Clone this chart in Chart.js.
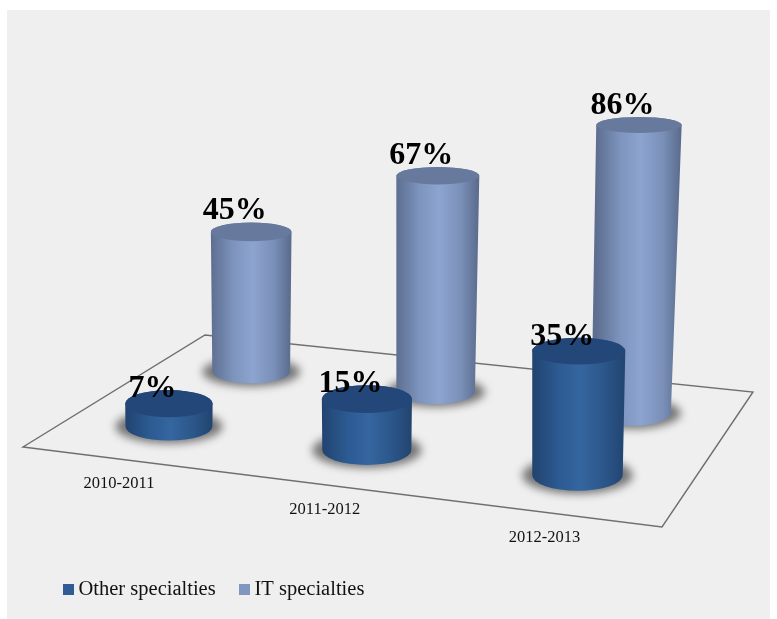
<!DOCTYPE html>
<html lang="en">
<head>
  <meta charset="UTF-8">
  <title>Specialties chart</title>
  <script src="https://cdn.jsdelivr.net/npm/chart.js"></script>
  <style>
    html, body { margin: 0; padding: 0; background: #fff; }
    canvas { display: block; }
  </style>
</head>
<body>
  <canvas id="chart" width="777" height="619"></canvas>

  <script>
    // data (percent)
    const categories = ['2010-2011', '2011-2012', '2012-2013'];
    const otherValues = [7, 15, 35];
    const itValues = [45, 67, 86];

    const SERIF = '"Liberation Serif", serif';

    // corners of the floor: front-left, front-right, back-right, back-left
    const floor = [[23, 447], [662, 527], [753, 392], [205, 335]];
    const depthOf = { other: 0.25, it: 0.725 };

    const looks = {
      other: { side: ['#21436f', '#2c5a92', '#35669f', '#2b5689', '#224470'], top: '#24477a', labelDy: 7, heightK: 0.985, dx: 0 },
      it: { side: ['#5d6e90', '#7d94bd', '#8da4d0', '#7a90b8', '#596a8b'], top: '#67799d', labelDy: -3, heightK: 1.04, dx: 2 }
    };

    // unit square -> floor polygon
    function makeProjection(q) {
      const dx1 = q[1][0] - q[2][0], dy1 = q[1][1] - q[2][1];
      const dx2 = q[3][0] - q[2][0], dy2 = q[3][1] - q[2][1];
      const dx3 = q[0][0] - q[1][0] + q[2][0] - q[3][0];
      const dy3 = q[0][1] - q[1][1] + q[2][1] - q[3][1];
      const den = dx1 * dy2 - dx2 * dy1;
      const g = (dx3 * dy2 - dx2 * dy3) / den;
      const h = (dx1 * dy3 - dx3 * dy1) / den;
      const a = q[1][0] - q[0][0] + g * q[1][0], b = q[3][0] - q[0][0] + h * q[3][0];
      const d = q[1][1] - q[0][1] + g * q[1][1], e = q[3][1] - q[0][1] + h * q[3][1];
      return (u, v) => {
        const w = 1 + g * u + h * v;
        return {
          x: (a * u + b * v + q[0][0]) / w,
          y: (d * u + e * v + q[0][1]) / w,
          scale: 1 / w
        };
      };
    }
    const project = makeProjection(floor);
    const tilt = y => 0.13 + 0.00045 * y;

    function measure(chart, datasetIndex, i) {
      const ds = chart.data.datasets[datasetIndex];
      const look = looks[ds.key];
      const xs = chart.scales.x, ys = chart.scales.y;
      const u = (xs.getPixelForTick(i) - xs.left) / xs.width;
      const p = project(u, depthOf[ds.key]);
      p.x += look.dx;
      const value = ds.data[i];
      const h = (ys.getPixelForValue(0) - ys.getPixelForValue(value)) * Math.pow(p.scale, 1.3) * look.heightK;
      const topW = 90 * p.scale;
      const botW = topW * (1 - value * 0.0008);
      const lean = h * h * (p.x - 250) * 2.5e-7;
      const top = { x: p.x + lean, y: p.y - h, rx: topW / 2 };
      top.ry = top.rx * tilt(top.y);
      const bot = { x: p.x, y: p.y, rx: botW / 2 };
      bot.ry = bot.rx * tilt(bot.y);
      return { top, bot, value, look };
    }

    function drawCylinder(ctx, c) {
      const { top, bot, look } = c;

      // soft shadow on the floor
      ctx.save();
      ctx.filter = 'blur(4px)';
      ctx.fillStyle = 'rgba(60,60,60,0.68)';
      ctx.beginPath();
      ctx.ellipse(bot.x, bot.y, bot.rx + 10, bot.ry + 3, 0, 0, Math.PI * 2);
      ctx.fill();
      ctx.restore();

      // side
      const grad = ctx.createLinearGradient(top.x - top.rx, 0, top.x + top.rx, 0);
      look.side.forEach((col, k) => {
        grad.addColorStop([0, 0.28, 0.52, 0.78, 1][k], col);
      });
      ctx.fillStyle = grad;
      ctx.beginPath();
      ctx.moveTo(top.x - top.rx, top.y);
      ctx.lineTo(bot.x - bot.rx, bot.y);
      ctx.ellipse(bot.x, bot.y, bot.rx, bot.ry, 0, Math.PI, 0, true);
      ctx.lineTo(top.x + top.rx, top.y);
      ctx.ellipse(top.x, top.y, top.rx, top.ry, 0, 0, Math.PI, true);
      ctx.closePath();
      ctx.fill();

      // lid
      ctx.fillStyle = look.top;
      ctx.beginPath();
      ctx.ellipse(top.x, top.y, top.rx, top.ry, 0, 0, Math.PI * 2);
      ctx.fill();
    }

    const scenePlugin = {
      id: 'scene',
      beforeDraw(chart) {
        const ctx = chart.ctx;
        ctx.save();
        ctx.fillStyle = '#fff';
        ctx.fillRect(0, 0, chart.width, chart.height);
        ctx.fillStyle = '#efefef';
        ctx.fillRect(7, 10, 763, 609);

        // floor outline
        ctx.strokeStyle = '#6f6f6f';
        ctx.lineWidth = 1.4;
        ctx.beginPath();
        floor.forEach((pt, k) => k ? ctx.lineTo(pt[0], pt[1]) : ctx.moveTo(pt[0], pt[1]));
        ctx.closePath();
        ctx.stroke();

        // category labels sit just below the front edge of the floor
        const xs = chart.scales.x;
        ctx.fillStyle = '#111';
        ctx.font = '16.5px ' + SERIF;
        ctx.textAlign = 'center';
        ctx.textBaseline = 'alphabetic';
        categories.forEach((label, i) => {
          const u = (xs.getPixelForTick(i) - xs.left) / xs.width;
          const p = project(u, 0);
          ctx.fillText(label, p.x - 2, p.y + 29);
        });

        // legend
        const legendX = [63, 239];
        ctx.font = '20.5px ' + SERIF;
        ctx.textAlign = 'left';
        chart.data.datasets.forEach((ds, k) => {
          ctx.fillStyle = ds.backgroundColor;
          ctx.fillRect(legendX[k], 584, 11, 11);
          ctx.fillStyle = '#111';
          ctx.fillText(ds.label, legendX[k] + 15.5, 595);
        });
        ctx.restore();
      },
      beforeDatasetsDraw(chart) {
        const ctx = chart.ctx;
        const back = categories.map((_, i) => measure(chart, 1, i));
        const front = categories.map((_, i) => measure(chart, 0, i));
        ctx.save();
        back.concat(front).forEach(c => drawCylinder(ctx, c));

        // value labels go over everything
        ctx.fillStyle = '#000';
        ctx.font = 'bold 32px ' + SERIF;
        ctx.textAlign = 'center';
        ctx.textBaseline = 'alphabetic';
        back.concat(front).forEach(c => {
          ctx.fillText(c.value + '%', c.top.x - 16.5, c.top.y - c.top.ry + c.look.labelDy);
        });
        ctx.restore();
        return false;
      }
    };

    new Chart(document.getElementById('chart'), {
      type: 'bar',
      data: {
        labels: categories,
        datasets: [
          { key: 'other', label: 'Other specialties', data: otherValues, backgroundColor: '#2f5c95' },
          { key: 'it', label: 'IT specialties', data: itValues, backgroundColor: '#8297bf' }
        ]
      },
      plugins: [scenePlugin],
      options: {
        responsive: false,
        animation: false,
        layout: { padding: { top: 100, bottom: 174, left: 0, right: 0 } },
        plugins: { legend: { display: false }, tooltip: { enabled: false } },
        scales: {
          x: { display: false },
          y: { display: false, min: 0, max: 100 }
        }
      }
    });
  </script>
</body>
</html>
